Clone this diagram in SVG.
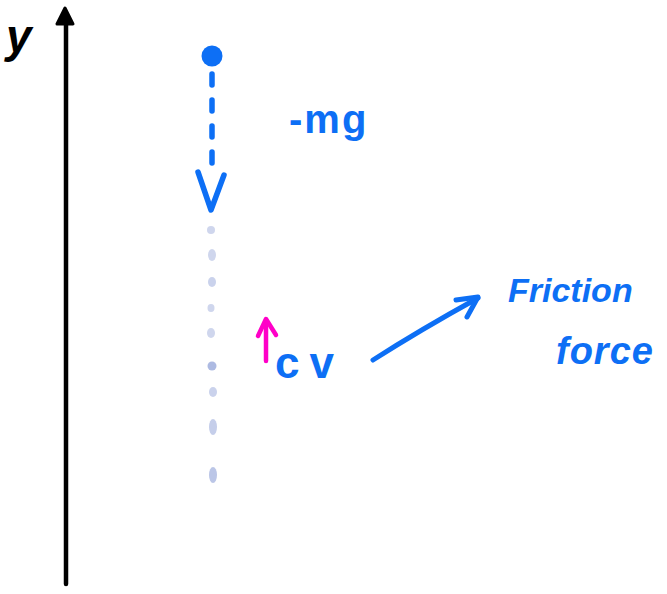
<svg xmlns="http://www.w3.org/2000/svg" width="667" height="594" viewBox="0 0 667 594">
<style>
.ink{fill:none;stroke-linecap:round;stroke-linejoin:round}
.blue{stroke:#0d6ff5}
.t{font-family:"Liberation Sans",Arial,sans-serif;font-weight:bold}
.tb{fill:#0d6ff5}
.fade{fill:#7f93d2}
</style>
<rect width="667" height="594" fill="#ffffff"/>
<g id="axis">
<path class="ink" d="M66 584 L66 18" stroke="#000" stroke-width="4.5"/>
<path d="M57 24 L65 8 L73 24 Z" fill="#000" stroke="#000" stroke-width="3" stroke-linejoin="round"/>
<text class="t" x="6" y="52" font-size="46" font-style="italic" fill="#000">y</text>
</g>
<g id="mass">
<circle cx="212" cy="56" r="10.5" fill="#0d6ff5"/>
</g>
<g id="gravity-label">
<text class="t tb" x="289" y="133" font-size="40" letter-spacing="2">-mg</text>
</g>
<g id="trail" opacity="0.75">
<ellipse class="fade" cx="211" cy="230" rx="4" ry="4" opacity="0.5"/>
<ellipse class="fade" cx="212" cy="255" rx="4" ry="6" opacity="0.5"/>
<ellipse class="fade" cx="212" cy="282" rx="4" ry="5" opacity="0.55"/>
<ellipse class="fade" cx="211" cy="308" rx="3.5" ry="4" opacity="0.5"/>
<ellipse class="fade" cx="211" cy="333" rx="4" ry="5" opacity="0.5"/>
<ellipse class="fade" cx="212" cy="366" rx="4.5" ry="4.5" opacity="0.85"/>
<ellipse class="fade" cx="213" cy="392" rx="4" ry="5" opacity="0.55"/>
<ellipse class="fade" cx="213" cy="427" rx="4" ry="8" opacity="0.6"/>
<ellipse class="fade" cx="213" cy="475" rx="4" ry="8" opacity="0.7"/>
</g>
<g id="cv-label">
<text class="t tb" x="275" y="378" font-size="44" letter-spacing="10">cv</text>
</g>
<g id="friction-label">
<text class="t tb" x="508" y="302" font-size="34" font-style="italic">Friction</text>
<text class="t tb" x="556" y="364" font-size="38" font-style="italic" letter-spacing="1">force</text>
</g>
<g id="connectors">
<path class="ink blue" d="M212 74 L212 172" stroke-width="5.5" stroke-dasharray="11 15"/>
<path class="ink blue" d="M198 172 L211 210 L224 175" stroke-width="5.5"/>
<path class="ink" d="M266 361 L266 320" stroke="#ff00c8" stroke-width="4.5"/>
<path class="ink" d="M258 336 L266 319 L276 335" stroke="#ff00c8" stroke-width="4.5"/>
<path class="ink blue" d="M373 360 Q420 330 478 298" stroke-width="5"/>
<path class="ink blue" d="M456 300 L478 297 L467 317" stroke-width="5"/>
</g>
</svg>
